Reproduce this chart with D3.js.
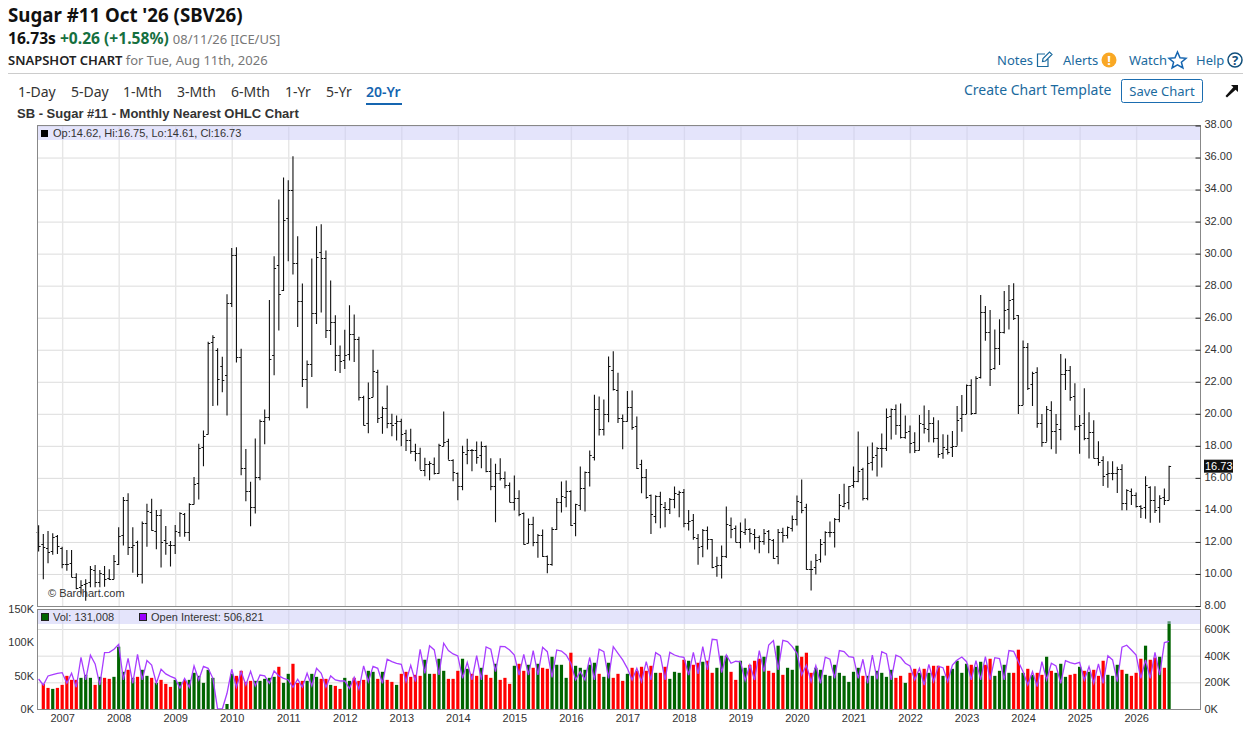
<!DOCTYPE html>
<html>
<head>
<meta charset="utf-8">
<title>Sugar #11 Oct '26 (SBV26)</title>
<script src="https://cdnjs.cloudflare.com/ajax/libs/d3/7.8.5/d3.min.js"></script>
<style>
  html, body { margin: 0; padding: 0; background: #fff; }
  svg { display: block; }
  text { font-family: "Noto Sans", sans-serif; }
  .chart text { font-family: "Liberation Sans", Arial, sans-serif; font-size: 11px; fill: #333; }
  .grid line { stroke: #dcdcdc; stroke-width: 1; }
  .grid path, .axis path { display: none; }
  .axis line { stroke: #222; }
</style>
</head>
<body>
<div id="chart"></div>
<script>
// one row per calendar year, Aug 2006 to Aug 2026
const opens = [
  12.6,11.9,11.6,11.46,12.37,
  11.65,10.63,10.67,9.8,9.2,9.4,9.48,10.25,9.5,9.98,9.75,9.7,
  10.63,12.44,14.63,11.67,12,9.98,13.17,13.85,12.7,13.69,12.1,11.8,
  11.8,12.65,13.75,12.65,14.38,15.69,17.92,18.75,24.48,23.98,22.98,22.4,
  26.94,29.9,23.54,16.63,15.19,14.17,16.06,19.58,19.8,23.7,29.31,27.7,
  32.25,33.96,29.44,27.06,22.19,23.13,26.29,30.1,29.75,25.25,25.73,23.69,
  23.38,23.75,25,24.65,21.04,19.42,21.04,22.6,19.83,20.38,19.42,19.42,
  19.58,18.79,18.38,17.67,17.56,16.52,16.88,16.88,16.29,18.02,18.33,17.13,
  16.33,15.5,17.5,17.75,17.71,17.44,17.98,16.42,15.52,16.31,15.98,15.56,
  14.5,14.75,13.79,11.92,13.13,11.98,12.46,11.1,10.63,12.81,14.5,14.83,
  15.17,13.19,14.33,15.35,16.35,17.29,20.31,19.06,20,22.75,21.5,19.75,
  19.52,20.42,19.25,16.88,16.08,14.92,13.65,14.88,14.17,14.06,14.69,15,
  15.1,13.19,13.4,12.25,11.77,12.77,12.19,10.52,10.56,11.1,13.08,12.88,
  11.98,12.6,12.81,12.5,12.29,12.04,12.67,12.15,11.1,12.6,12.46,12.88,
  13.44,14.52,14.17,10.31,10.42,10.94,11.98,12.6,12.6,13.44,14.23,14.52,
  15.58,15.83,16.56,14.75,16.98,17.44,17.88,17.88,19.88,20.29,19.27,18.54,
  18.92,18.27,17.73,19.38,19.02,19.4,18.46,17.58,17.83,17.94,18,19.71,
  19.98,21.79,20.06,22.31,26.38,25.08,22.83,24.08,25.08,26.52,27.15,26.17,
  20.58,24.15,21.83,22.58,19.44,18.27,20.23,18.94,19.08,22.46,22.73,21.1,
  19.25,19.4,18.5,18.88,17.27,17.1,16.23,16.33,16.33,16.58,14.46,15.17,
  14.96,14.23,14.15,15.44,14.6,14.15,14.81,14.62
];
const highs = [
  13.04,12.5,12.69,12.54,12.44,
  11.7,11.5,11.5,10.04,9.6,9.67,10.5,10.56,10.25,10.5,10.3,11.19,
  12.92,14.8,15.04,12.92,12.08,13.27,14.38,14.69,14,14.04,13,12.06,
  13.06,13.85,13.8,14.42,16.06,18.13,18.96,24.5,24.9,24.1,23.56,27.46,
  30.35,30.4,24.06,17.81,15.75,18.46,19.65,20.27,27.1,29.83,33.38,34.75,
  34.58,36.08,31.08,28.13,23.33,29.7,31.71,31.83,30.2,28.33,26.15,24.27,
  25.25,26.77,26.2,24.81,21.13,21.96,24,22.75,20.46,21.77,20,19.9,
  19.69,19,19.06,18.13,17.88,17.25,17.04,17.27,18.13,20.15,18.44,17.17,
  16.33,18,18.44,17.81,18.27,18.27,18.02,17.23,16.88,17.23,16.4,15.71,
  16.15,15.23,13.83,13.46,13.58,12.5,12.77,11.15,12.92,14.75,15.77,15.83,
  15.23,14.38,16.71,16.4,17.71,21.19,21.08,20.9,23.58,23.9,22.56,19.96,
  21.42,21.46,19.83,17.13,16.56,14.96,14.92,15.13,14.5,14.75,15.46,15.19,
  15.31,14,13.75,12.5,12.81,12.96,12.19,11.08,11.77,14.21,13.52,13.02,
  13.21,13.46,12.85,12.81,12.4,12.81,12.75,12.19,12.81,12.88,12.96,13.65,
  14.9,15.9,14.38,10.83,11.25,12.19,12.67,13.27,13.5,15,15.63,15.5,
  16.71,18.9,16.63,17.96,18.21,17.92,18.77,20.33,20.33,20.58,20.65,19.9,
  19.27,18.85,19.92,20.52,20.23,19.79,19.6,18.73,18.69,18.92,20.48,21.17,
  21.83,22.15,22.35,27.42,26.73,26.48,25.27,25.9,27.67,28.04,28.15,26.17,
  24.58,24.42,22.63,22.9,19.98,20.48,20.79,19.98,23.73,23.46,22.98,21.9,
  19.92,21.6,20.1,19.6,18.29,17.35,17.04,17.04,16.69,16.85,15.29,15.33,
  15.08,14.29,16.1,15.48,15.48,14.92,15.33,16.75
];
const lows = [
  11.4,9.67,10.67,11.2,11.25,
  10.35,10.2,9.8,9.04,8.7,8.33,9.17,9.17,9.17,9.2,9.63,9.67,
  10.56,11.77,11.19,10.08,9.81,9.4,11.7,12.7,11.54,10.4,11.2,10.46,
  11.25,12.33,12.33,12.06,14.33,14.65,16.73,18.7,20.48,20.52,21.35,19.9,
  26.67,23.2,16.17,14.54,12.98,13.77,15.85,18.1,19.58,22.4,25.2,27.67,
  29.52,28.7,25.42,21.67,20.35,22.3,25.6,26.33,24.73,24.29,22.67,22.54,
  22.8,23.33,23.23,20.83,19.27,18.79,21.04,19.42,18.75,19.1,18.6,18.33,
  17.98,17.67,17.5,17.04,16.5,16.1,15.85,16.21,16.25,17.98,17.13,15.79,
  14.6,15.23,16.85,16.42,16.88,16.6,16.35,15.23,13.23,15.83,15.35,14.48,
  13.96,13.6,11.83,11.92,11.73,11.02,11.06,10.04,10.52,12.75,13.83,14.17,
  13,12.35,14,13.9,15.46,17.08,18.65,18.65,19.48,21.46,19.42,17.79,
  19.5,19,16.56,15.04,14.69,12.5,13.17,12.85,12.92,13.75,14.1,13.54,
  12.92,12.71,12.13,10.58,11.04,11.52,10.35,9.83,9.71,11,12.23,11.98,
  11.6,12.44,11.96,11.52,11.29,11.83,11.29,10.94,10.6,11.96,12.21,12.65,
  13.02,13.79,10.27,8.96,9.96,10.71,11.15,12.29,11.65,13.23,14.17,14.02,
  15.38,15.73,14.58,14.6,16.46,16.08,16.65,17.67,18.4,18.69,18.46,18.44,
  17.54,17.56,17.71,18.77,18.23,18.21,17.25,17.19,17.46,17.31,18,18.88,
  19.98,19.92,19.98,22.21,24.56,21.73,22.77,23.04,25.02,25.27,25.85,19.98,
  20.55,21.48,20.48,19.13,17.94,18.25,17.79,17.5,18.35,21.48,20.81,18.98,
  17.5,18.35,17.21,17.21,16.75,15.5,15.38,15.85,15.06,13.98,13.98,14.31,
  14.15,13.5,13.44,13.19,13.81,13.19,14.31,14.61
];
const closes = [
  11.77,11.7,11.4,12.3,11.75,
  10.63,10.6,9.83,9.1,9.3,9.45,10.3,9.48,10.04,9.69,9.7,10.8,
  12.37,14.63,11.67,11.8,9.98,13.17,13.94,12.75,13.69,12.02,11.96,11.78,
  12.7,13.8,12.65,14.38,15.63,17.88,18.63,24.44,24.8,22.19,22.1,26.94,
  29.9,23.54,16.63,15.19,14.17,16.06,19.58,19.8,23.44,29.1,27.5,32.13,
  33.96,29.44,27.06,22.19,23.13,26.29,29.8,29.7,25.25,25.73,23.69,23.27,
  23.65,25,24.69,21.04,19.33,21,22.65,19.75,20.38,19.42,19.31,19.58,
  18.75,18.38,17.67,17.56,16.52,16.88,16.94,16.29,18.08,18.23,17.13,16.38,
  15.5,17.63,17.75,17.71,17.29,17.96,16.42,15.48,16.31,15.98,15.58,14.5,
  14.75,13.73,11.9,13.13,11.98,12.42,11.1,10.63,12.81,14.5,14.88,15.17,
  13.08,14.38,15.35,16.35,17.44,20.31,19.02,20,22.96,21.52,19.75,19.52,
  20.42,19.2,16.63,16.08,14.79,13.75,14.88,14.38,14.06,14.69,15.04,15.1,
  13.19,13.29,12.29,11.71,12.77,12.19,10.46,10.56,11.1,13.13,12.81,12.02,
  12.67,12.81,12.54,12.29,12.04,12.56,12.19,11,12.6,12.44,12.92,13.42,
  14.58,14.02,10.31,10.28,10.88,11.88,12.6,12.6,13.44,14.31,14.46,15.48,
  15.83,16.4,14.75,16.94,17.31,17.88,17.88,19.83,20.29,19.27,18.54,18.85,
  18.19,17.73,19.44,19.13,19.4,18.46,17.52,17.9,17.63,18,19.6,19.98,
  21.79,20.06,22.23,26.33,25.08,22.79,24.08,25.08,26.48,27.1,25.96,20.58,
  24.15,21.58,22.52,19.44,18.27,20.33,18.9,19.35,22.46,22.73,21.06,19.25,
  19.33,18.5,18.88,17.21,17,16.13,16.33,16.33,16.58,14.4,15.23,14.96,
  14.23,14.13,15.54,14.6,13.98,14.77,14.6,16.73
];
// thousands of contracts
const volumes = [
  0,37.5,31.5,30,31.5,
  36,49.5,43.5,43.5,46.5,51,46.5,36,48,46.5,45,48,
  93,55.5,58.5,46.5,48,58.5,49.5,46.5,39,43.5,37.5,33,
  43.5,40.5,43.5,43.5,54,49.5,39,58.5,46.5,0,0,7.5,
  52.5,49.5,57,40.5,42,42,42,45,46.5,48,63,39,
  52.5,67.5,39,42,42,52.5,48,45,45,36,34.5,30,
  46.5,42,46.5,42,43.5,57,55.5,45,55.5,43.5,40.5,36,
  52.5,55.5,48,51,49.5,73.5,52.5,52.5,75,57,45,45,
  57,75,60,52.5,49.5,61.5,51,46.5,67.5,43.5,46.5,37.5,
  64.5,67.5,57,66,61.5,67.5,61.5,60,78,66,66,46.5,
  84,64.5,61.5,58.5,66,69,52.5,48,69,46.5,52.5,42,
  52.5,61.5,57,63,57,64.5,54,54,63,45,55.5,54,
  73.5,72,66,69,70.5,72,54,61.5,79.5,79.5,55.5,43.5,
  72,61.5,66,72,75,78,57,54,94.5,51,61.5,58.5,
  94.5,78,84,54,61.5,58.5,51,49.5,66,54,49.5,40.5,
  55.5,61.5,49.5,49.5,49.5,57,54,48,58.5,46.5,49.5,39,
  54,60,54,60,54,64.5,64.5,49.5,64.5,60,72,54,
  67.5,66,63,70.5,66,75,49.5,57,66,54,54,88.5,
  54,60,51,54,51,78,57,54,67.5,48,51,52.5,
  63,57,55.5,58.5,49.5,72,51,49.5,66,58.5,52.5,49.5,
  54,75,94.5,73.5,76.5,78,61.5,131.008
];
const openInterest = [
  225,180,248,258,268,
  273,193,268,163,388,218,403,338,180,423,425,448,
  485,218,380,193,410,218,363,330,193,298,263,245,
  230,155,230,163,323,218,320,305,230,0,0,118,
  298,163,280,180,283,173,255,248,193,285,248,230,
  218,163,223,163,268,173,305,268,163,248,218,210,
  210,153,238,148,323,205,320,305,193,373,355,343,
  335,205,328,205,448,268,475,443,255,493,438,413,
  398,230,350,218,400,218,465,448,280,470,468,443,
  405,255,410,255,438,255,463,430,238,443,435,405,
  343,218,280,218,388,218,448,430,230,468,418,368,
  305,218,305,205,355,218,423,400,218,425,405,393,
  388,255,425,263,468,293,523,518,273,405,343,358,
  353,213,330,218,438,280,480,513,293,515,505,468,
  418,255,330,205,325,193,388,373,230,438,430,393,
  388,230,373,193,405,223,430,413,218,403,388,343,
  323,218,305,180,335,205,320,310,205,330,368,390,
  355,218,363,218,393,218,385,378,218,438,433,355,
  280,180,280,168,355,218,343,323,193,363,348,338,
  350,218,318,193,338,193,400,368,205,463,478,443,
  405,230,368,230,425,255,498,506.821
];
const yearLabels = d3.range(2007, 2027);
const priceTicks = d3.range(8, 39, 2);
const volumeTicks = [0, 50, 100, 150];
const interestTicks = [0, 200, 400, 600];
const rangeTabs = ['1-Day', '5-Day', '1-Mth', '3-Mth', '6-Mth', '1-Yr', '5-Yr', '20-Yr'];
const tabStarts = [18, 71, 123, 177, 231, 285, 326, 366];

const bars = closes.map((c, i) => ({
  i, open: opens[i], high: highs[i], low: lows[i], close: c,
  volume: volumes[i], interest: openInterest[i]
}));

const svg = d3.select('#chart').append('svg').attr('width', 1249).attr('height', 741);
const plot = { left: 37.5, right: 1200.5, top: 125.5, bottom: 606.5, volTop: 609.5, volBottom: 709.5 };

const x = d3.scaleLinear().domain([0, 240]).range([38.6, 1169.1]);
const y = d3.scaleLinear().domain([8, 38]).range([606, 125.5]);
const yVol = d3.scaleLinear().domain([0, 150]).range([709, 608.5]);
const yInt = d3.scaleLinear().domain([0, 600]).range([709, 629]);

drawHeader();
drawPricePanel();
drawVolumePanel();

function label(parent, px, py, str, opts = {}) {
  return parent.append('text').attr('x', px).attr('y', py)
    .attr('font-size', opts.size || 13)
    .attr('font-weight', opts.weight || 400)
    .attr('fill', opts.fill || '#222')
    .attr('text-anchor', opts.anchor || 'start')
    .text(str);
}

function drawHeader() {
  const g = svg.append('g');
  const blue = '#1b6a9e';
  label(g, 8, 22, "Sugar #11 Oct '26 (SBV26)", { size: 18.7, weight: 700, fill: '#111' });

  const line2 = g.append('text').attr('x', 8).attr('y', 44);
  line2.append('tspan').attr('font-size', 15.6).attr('font-weight', 700).attr('fill', '#111').text('16.73s ');
  line2.append('tspan').attr('font-size', 15.6).attr('font-weight', 700).attr('fill', '#15703f').text('+0.26 (+1.58%) ');
  line2.append('tspan').attr('font-size', 13).attr('fill', '#777').text('08/11/26 [ICE/US]');

  const line3 = g.append('text').attr('x', 8).attr('y', 65).attr('font-size', 13);
  line3.append('tspan').attr('font-weight', 600).attr('fill', '#222').text('SNAPSHOT CHART ');
  line3.append('tspan').attr('fill', '#777').text('for Tue, Aug 11th, 2026');

  g.append('line').attr('x1', 8).attr('x2', 1243).attr('y1', 73.5).attr('y2', 73.5).attr('stroke', '#ccc');

  rangeTabs.forEach((t, i) => {
    const active = t === '20-Yr';
    label(g, tabStarts[i], 97, t, { size: 14, weight: active ? 600 : 400, fill: active ? '#1565b0' : '#333' });
  });
  g.append('rect').attr('x', 366).attr('y', 103).attr('width', 36).attr('height', 2).attr('fill', '#1565b0');

  label(g, 17, 118, 'SB - Sugar #11 - Monthly Nearest OHLC Chart', { size: 13, weight: 700, fill: '#333' })
    .style('font-family', '"Liberation Sans", Arial, sans-serif');

  label(g, 997, 65, 'Notes', { fill: blue });
  label(g, 1063, 65, 'Alerts', { fill: blue });
  label(g, 1129, 65, 'Watch', { fill: blue });
  label(g, 1196, 65, 'Help', { fill: blue });

  // notes icon
  g.append('path').attr('fill', 'none').attr('stroke', blue).attr('stroke-width', 1.2)
    .attr('d', 'M1048 59V66.5H1037.5V54H1045M1042.5 61.5L1043 58.5L1049.5 52L1052 54.5L1045.5 61Z');
  // alerts icon
  g.append('circle').attr('cx', 1109).attr('cy', 60).attr('r', 7.5).attr('fill', '#f9a825');
  label(g, 1109, 65, '!', { anchor: 'middle', weight: 700, fill: '#fff' });
  // watch star
  g.append('path').attr('fill', 'none').attr('stroke', '#1565b0').attr('stroke-width', 1.5)
    .attr('d', 'M1177.5 52L1180 57.8L1186 58.3L1181.4 62.2L1182.9 68L1177.5 64.9L1172.1 68L1173.6 62.2L1169 58.3L1175 57.8Z');
  // help icon
  g.append('circle').attr('cx', 1235).attr('cy', 60).attr('r', 7).attr('fill', 'none').attr('stroke', '#12507c').attr('stroke-width', 1.5);
  label(g, 1235, 65, '?', { anchor: 'middle', weight: 700, fill: '#12507c' });

  label(g, 964, 95, 'Create Chart Template', { size: 14, fill: blue });
  g.append('rect').attr('x', 1121.5).attr('y', 79.5).attr('width', 81).attr('height', 23).attr('rx', 2)
    .attr('fill', '#fff').attr('stroke', '#1b6db0');
  label(g, 1162, 96, 'Save Chart', { anchor: 'middle', fill: blue });
  g.append('path').attr('fill', '#111')
    .attr('d', 'M1231 85H1238V92L1235.6 89.8L1227 97.5L1225.5 96L1233.3 87.3Z');
}

function drawPricePanel() {
  const g = svg.append('g').attr('class', 'chart');

  g.append('g').attr('class', 'grid')
    .attr('transform', `translate(${plot.left},0)`)
    .call(d3.axisRight(y).tickValues(priceTicks).tickSize(plot.right - plot.left).tickFormat(''));
  g.append('g').attr('class', 'grid')
    .attr('transform', `translate(0,${plot.top})`)
    .call(d3.axisBottom(x)
      .tickValues(yearLabels.map(d => 5 + (d - 2007) * 12))
      .tickSize(plot.bottom - plot.top).tickFormat(''))
    .selectAll('line').style('stroke', '#e6e6e6').style('stroke-width', 1.4);

  // monthly OHLC bars
  g.append('g').selectAll('path').data(bars).enter().append('path')
    .attr('fill', 'none')
    .attr('stroke', '#111')
    .attr('stroke-width', 1.1)
    .attr('d', d => {
      const px = x(d.i);
      return `M${px},${y(d.high)}V${y(d.low)}` +
        `M${px - 2},${Math.round(y(d.open)) + 0.5}H${px}` +
        `M${px},${Math.round(y(d.close)) + 0.5}H${px + 2}`;
    });

  g.append('rect').attr('x', plot.left).attr('y', plot.top)
    .attr('width', plot.right - plot.left).attr('height', 14.5)
    .attr('fill', 'rgba(201,201,247,.5)');
  g.append('rect').attr('x', plot.left).attr('y', plot.top)
    .attr('width', plot.right - plot.left).attr('height', plot.bottom - plot.top)
    .attr('fill', 'none').attr('stroke', '#888');

  g.append('rect').attr('x', 41).attr('y', 130).attr('width', 7).attr('height', 7).attr('fill', '#000');
  g.append('text').attr('x', 53).attr('y', 137).text('Op:14.62, Hi:16.75, Lo:14.61, Cl:16.73');
  g.append('text').attr('x', 48).attr('y', 597).text('\u00A9 Barchart.com');

  const axis = g.append('g').attr('class', 'axis')
    .attr('transform', `translate(${plot.right},0)`)
    .call(d3.axisRight(y).tickValues(priceTicks).tickSize(-5).tickPadding(4).tickFormat(d3.format('.2f')));
  axis.selectAll('text').attr('dy', '0.22em').style('fill', '#333');

  // last price flag
  const last = bars[bars.length - 1];
  g.append('rect').attr('x', 1204).attr('y', y(last.close) - 6.5).attr('width', 29).attr('height', 13).attr('fill', '#111');
  g.append('text').attr('x', 1205).attr('y', y(last.close) + 4).style('fill', '#fff').text('16.73');
}

function drawVolumePanel() {
  const g = svg.append('g').attr('class', 'chart');

  g.append('g').attr('class', 'grid')
    .attr('transform', `translate(${plot.left},0)`)
    .call(d3.axisRight(yInt).tickValues(interestTicks.slice(1)).tickSize(plot.right - plot.left).tickFormat(''));
  g.append('g').attr('class', 'grid')
    .attr('transform', `translate(0,${plot.volTop})`)
    .call(d3.axisBottom(x)
      .tickValues(yearLabels.map(d => 5 + (d - 2007) * 12))
      .tickSize(plot.volBottom - plot.volTop).tickFormat(''))
    .selectAll('line').style('stroke', '#e6e6e6').style('stroke-width', 1.4);

  g.append('g').selectAll('rect').data(bars.filter(d => d.volume > 0)).enter().append('rect')
    .attr('x', d => x(d.i) - 1.6)
    .attr('width', 3.2)
    .attr('y', d => yVol(d.volume))
    .attr('height', d => yVol(0) - yVol(d.volume))
    .attr('fill', d => (d.close >= d.open ? '#006400' : '#ff0000'));

  const interestLine = d3.line().x(d => x(d.i)).y(d => yInt(d.interest));
  g.append('path').datum(bars)
    .attr('fill', 'none')
    .attr('stroke', '#a83dff')
    .attr('stroke-width', 1.3)
    .attr('d', interestLine);

  g.append('rect').attr('x', plot.left).attr('y', plot.volTop)
    .attr('width', plot.right - plot.left).attr('height', 14.5)
    .attr('fill', 'rgba(201,201,247,.5)');
  g.append('rect').attr('x', plot.left).attr('y', plot.volTop)
    .attr('width', plot.right - plot.left).attr('height', plot.volBottom - plot.volTop)
    .attr('fill', 'none').attr('stroke', '#888');

  g.append('rect').attr('x', 41.5).attr('y', 613.5).attr('width', 7).attr('height', 7).attr('fill', '#006400').attr('stroke', '#222');
  g.append('text').attr('x', 53).attr('y', 621).text('Vol: 131,008');
  g.append('rect').attr('x', 139.5).attr('y', 613.5).attr('width', 7).attr('height', 7).attr('fill', '#9a00ff').attr('stroke', '#222');
  g.append('text').attr('x', 151).attr('y', 621).text('Open Interest: 506,821');

  const kFormat = d => `${d}K`;
  g.append('g').attr('class', 'axis')
    .attr('transform', `translate(${plot.left},0)`)
    .call(d3.axisLeft(yVol).tickValues(volumeTicks).tickSize(0).tickPadding(3.5).tickFormat(kFormat));
  g.append('g').attr('class', 'axis')
    .attr('transform', `translate(${plot.right},0)`)
    .call(d3.axisRight(yInt).tickValues(interestTicks).tickSize(0).tickPadding(4).tickFormat(kFormat));

  const years = g.append('g').attr('class', 'axis')
    .attr('transform', `translate(0,${plot.volBottom})`)
    .call(d3.axisBottom(x)
      .tickValues(yearLabels.map(d => 5 + (d - 2007) * 12))
      .tickSize(0).tickPadding(5)
      .tickFormat(i => yearLabels[(i - 5) / 12]));
  years.selectAll('text').style('fill', '#333');
}
</script>
</body>
</html>
